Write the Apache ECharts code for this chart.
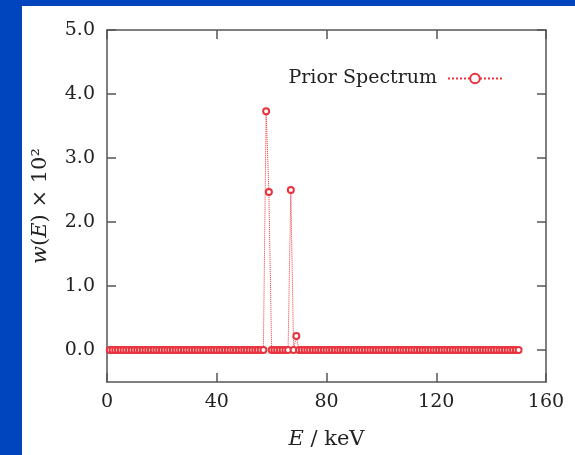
<!DOCTYPE html>
<html lang="en">
<head>
<meta charset="UTF-8">
<title>Prior Spectrum</title>
<style>
  * { margin: 0; padding: 0; }
  html, body { width: 575px; height: 455px; background: #0045bd; overflow: hidden; }
  #panel { position: absolute; left: 22px; top: 6px; right: 0; bottom: 0; background: #ffffff; }
  #chart { position: absolute; left: 0; top: 0; width: 575px; height: 455px; }
</style>
</head>
<body>
<div id="panel"></div>
<div id="chart"></div>
<script src="https://cdn.jsdelivr.net/npm/echarts@6/dist/echarts.min.js"></script>
<script>
// energy bins, 1 keV wide, E = 1 .. 150 keV
var energyStart = 1;
var energyStep = 1;
// w(E) x 10^2, one value per bin
var priorValues = [
  0, 0, 0, 0, 0, 0, 0, 0, 0, 0,
  0, 0, 0, 0, 0, 0, 0, 0, 0, 0,
  0, 0, 0, 0, 0, 0, 0, 0, 0, 0,
  0, 0, 0, 0, 0, 0, 0, 0, 0, 0,
  0, 0, 0, 0, 0, 0, 0, 0, 0, 0,
  0, 0, 0, 0, 0, 0, 0, 3.73, 2.47, 0,
  0, 0, 0, 0, 0, 0, 2.50, 0, 0.22, 0,
  0, 0, 0, 0, 0, 0, 0, 0, 0, 0,
  0, 0, 0, 0, 0, 0, 0, 0, 0, 0,
  0, 0, 0, 0, 0, 0, 0, 0, 0, 0,
  0, 0, 0, 0, 0, 0, 0, 0, 0, 0,
  0, 0, 0, 0, 0, 0, 0, 0, 0, 0,
  0, 0, 0, 0, 0, 0, 0, 0, 0, 0,
  0, 0, 0, 0, 0, 0, 0, 0, 0, 0,
  0, 0, 0, 0, 0, 0, 0, 0, 0, 0
];
var yTicks = [0, 1, 2, 3, 4, 5];

var red = '#e8333c';
var axisColor = '#555555';
var font = 'DejaVu Serif';

var seriesData = priorValues.map(function (v, i) {
  return [energyStart + i * energyStep, v];
});

var chart = echarts.init(document.getElementById('chart'));

function ticks(custom) {
  var t = { show: true, inside: true, length: 9, lineStyle: { color: axisColor, width: 1.5 } };
  if (custom) t.customValues = custom;
  return t;
}
function axisLine() {
  return { show: true, onZero: false, lineStyle: { color: axisColor, width: 1.5 } };
}

chart.setOption({
  animation: false,
  textStyle: { fontFamily: font },
  grid: { left: 107, top: 30, right: 29, bottom: 73 },
  legend: {
    right: 67,
    top: 64,
    align: 'right',
    itemWidth: 54,
    itemHeight: 12,
    textStyle: { fontFamily: font, fontSize: 19, color: '#222', padding: [0, 6, 0, 0] },
    data: ['Prior Spectrum']
  },
  xAxis: [{
    type: 'value',
    position: 'bottom',
    min: 0, max: 160, interval: 40,
    axisLine: axisLine(),
    axisTick: ticks(),
    splitLine: { show: false },
    axisLabel: { fontFamily: font, fontSize: 19, color: '#222', margin: 11 },
    name: '{i|E} / keV',
    nameLocation: 'middle',
    nameGap: 47,
    nameTextStyle: {
      fontFamily: font, fontSize: 21, color: '#222',
      rich: { i: { fontFamily: font, fontStyle: 'italic', fontSize: 21, color: '#222' } }
    }
  }, {
    type: 'value',
    position: 'top',
    min: 0, max: 160, interval: 40,
    axisLine: axisLine(),
    axisTick: ticks(),
    axisLabel: { show: false },
    splitLine: { show: false }
  }],
  yAxis: [{
    type: 'value',
    position: 'left',
    min: -0.5, max: 5,
    axisLine: axisLine(),
    axisTick: ticks(yTicks),
    splitLine: { show: false },
    axisLabel: {
      customValues: yTicks,
      fontFamily: font, fontSize: 19, color: '#222', margin: 12,
      formatter: function (v) { return v.toFixed(1); }
    },
    name: '{i|w}({i|E}) × 10²',
    nameLocation: 'middle',
    nameRotate: 90,
    nameGap: 56,
    nameTextStyle: {
      fontFamily: font, fontSize: 21, color: '#222',
      rich: { i: { fontFamily: font, fontStyle: 'italic', fontSize: 21, color: '#222' } }
    }
  }, {
    type: 'value',
    position: 'right',
    min: -0.5, max: 5,
    axisLine: axisLine(),
    axisTick: ticks(yTicks),
    axisLabel: { show: false },
    splitLine: { show: false }
  }],
  series: [{
    name: 'Prior Spectrum',
    type: 'line',
    xAxisIndex: 0,
    yAxisIndex: 0,
    data: seriesData,
    symbol: 'emptyCircle',
    symbolSize: 6,
    showAllSymbol: true,
    itemStyle: { color: red, borderColor: red, borderWidth: 1.2 },
    lineStyle: { color: red, width: 1, type: 'dotted' }
  }]
});
</script>
</body>
</html>
